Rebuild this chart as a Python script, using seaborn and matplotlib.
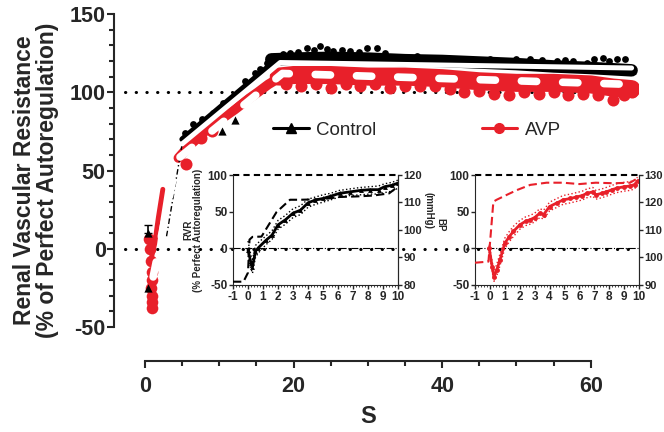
import matplotlib
matplotlib.use("Agg")
import matplotlib.pyplot as plt
import matplotlib.ticker as mticker
from matplotlib.lines import Line2D
import seaborn as sns

sns.set_style("ticks")
plt.rcParams["font.family"] = ["Liberation Sans", "DejaVu Sans"]
plt.rcParams["font.weight"] = "bold"
plt.rcParams["axes.unicode_minus"] = False

RED = "#E8202A"

# ---------------- main panel data ----------------
ctrl_tri_t = [0.4, 0.4, 10.4, 12.1, 65.5]
ctrl_tri_y = [10, -25, 75, 82, 114]

ctrl_dots_t = [5.4, 6.5, 7.7, 9.2, 10.5, 12.1, 13.5, 14.8, 15.5, 16.4, 17.5, 18.6,
               19.5, 20.6, 21.8, 22.7, 23.6, 24.5, 25.3, 26.5, 27.6, 28.8, 29.9,
               31.2, 32.3, 33.4, 35.0, 36.6, 38.5, 40.1, 41.3, 42.5, 43.8, 45.1,
               46.5, 48.2, 50.0, 51.8, 53.5, 55.4, 56.5, 57.6, 59.5, 60.5, 61.6,
               62.5, 63.5, 64.6]
ctrl_dots_y = [74, 80, 83, 87, 93, 97, 107, 112, 115, 119, 123, 124.5,
               125, 126, 128.4, 127, 129.7, 127.5, 126.5, 127, 126.5, 125.5, 128.4,
               128, 125.2, 122, 121.5, 123, 122, 122, 121, 121, 120.5, 120,
               121, 120, 121, 121.4, 120.5, 120, 120.5, 120, 119, 121, 122,
               120, 121.4, 121.4]

ctrl_diag_t = [5.0, 8.0, 11.0, 14.0, 17.0]
ctrl_diag_y = [70, 82, 94, 106, 118]
ctrl_band_t = [17.0, 20, 25, 30, 35, 40, 45, 50, 55, 60, 65.5]
ctrl_band_y = [121, 121.5, 122, 121.5, 120.5, 120, 119, 118, 116.5, 115.5, 114]

avp_col_t = [0.5, 0.7, 0.8, 0.9, 0.9, 0.8, 0.9, 0.9, 0.9]
avp_col_y = [6, 0, -8, -15, -20, -25, -30, -34, -38]
avp_steep_t = [0.9, 1.3, 1.8, 2.4]
avp_steep_y = [-5, 3, 20, 38]
avp_diag_t = [4.5, 6.0, 8.3, 10.0, 12.1, 14.0, 15.2, 16.6, 18.0]
avp_diag_y = [58, 66, 76, 82, 89, 96, 100, 105, 109]
avp_plat_t = [18.0, 20, 25, 30, 35, 40, 45, 50, 55, 60, 63, 65.5]
avp_plat_y = [110, 111, 111, 110, 110, 109, 107, 106, 106, 105, 103, 102]
avp_blob_t = [5.5, 7.5, 9.0, 19, 21, 23, 25, 27, 29, 31, 33, 35, 37, 39, 41, 43,
              45, 47, 49, 51, 53, 55, 57, 59, 61, 63, 64.5, 65.5]
avp_blob_y = [54, 71, 75, 105, 104, 105, 103, 105, 104, 105, 103, 104, 104, 104,
              102, 100, 101, 99, 98, 100, 99, 100, 98, 99, 98, 95, 98, 100]

ctrl_fit0_t = [2.9, 5.0]
ctrl_fit0_y = [8, 67]
ctrl_fit_t = [5.0, 18.2, 65.5]
ctrl_fit_y = [67, 119, 115.5]
avp_fit_t = [1.1, 4.3, 18.5, 65.5]
avp_fit_y = [-18, 57, 112, 105]

# ---------------- inset data ----------------
i1_t = [0.0, 0.2, 0.3, 0.5, 0.7, 1.2, 1.6, 2.0, 2.5, 3.0, 3.5, 4.0, 4.5, 5.0, 5.5,
        6.1, 6.8, 7.5, 8.1, 8.7, 9.1, 9.6, 10.0]
i1_rvr = [-2, -20, -25, -4, 1, 11, 18, 32, 39, 48, 52, 62, 66, 68, 71, 75, 77, 79,
          80, 80, 84, 86, 89]
i1_hi = [10, -10, -15, 4, 8, 17, 24, 38, 45, 54, 58, 67, 70, 73, 75, 79, 81, 83,
         84, 85, 88, 90, 93]
i1_lo = [-10, -28, -34, -12, -6, 5, 12, 26, 33, 42, 46, 56, 60, 63, 66, 70, 72, 73,
         74, 74, 76, 78, 82]
i1_bp_t = [-1.0, -0.3, 0.0, 0.1, 0.3, 0.9, 1.9, 2.8, 3.5, 5.0, 6.1, 7.2, 8.3, 9.4, 10.0]
i1_bp = [81.2, 81.2, 84.5, 96.5, 97.5, 97.6, 106.5, 111, 111, 111.2, 112, 112.2,
         112.5, 113.3, 115.8]

i2_t = [-0.05, 0.15, 0.27, 0.45, 0.67, 1.0, 1.3, 1.57, 2.0, 2.4, 2.7, 3.0, 3.35,
        3.6, 4.0, 4.5, 4.9, 5.4, 5.8, 6.2, 6.5, 6.9, 7.1, 7.5, 7.8, 8.2, 8.5, 9.0,
        9.4, 9.7, 9.9]
i2_rvr = [0, -25, -39, -30, -16, 7, 16, 23, 32, 37, 39, 42, 48, 46, 57, 62, 66, 68,
          70, 72, 75, 77, 73, 75, 77, 80, 82, 84, 85, 87, 92]
i2_hi = [5, -18, -32, -22, -8, 14, 23, 30, 38, 43, 45, 48, 54, 52, 63, 68, 72, 74,
         76, 78, 81, 83, 79, 81, 83, 86, 88, 90, 91, 93, 97]
i2_lo = [-5, -32, -45, -38, -24, 0, 9, 16, 26, 31, 33, 36, 42, 40, 51, 56, 60, 62,
         64, 66, 69, 71, 67, 69, 71, 74, 76, 78, 79, 81, 87]
i2_bp_t = [-1.0, -0.1, 0.0, 0.23, 0.45, 1.1, 1.8, 2.7, 3.8, 4.9, 6.0, 7.1, 8.3, 9.4, 9.9]
i2_bp = [98.1, 98.5, 105, 120.3, 121, 122.7, 124.5, 126.4, 127.2, 127.2, 126.7,
         127.2, 127, 127.2, 128.8]

# ---------------- main panel ----------------
fig = plt.figure(figsize=(6.64, 4.32), dpi=100)
ax = fig.add_axes([0.1717, 0.243, 0.7907, 0.7246])
ax.set_xlim(-4.17, 66.5)
ax.set_ylim(-50, 150)

dots = dict(color="black", lw=2.2, linestyle=(0, (0.1, 3.4)),
            dash_capstyle="round", zorder=1)
ax.plot([-2.7, 65.5], [100, 100], **dots)
ax.plot([-2.7, 65.5], [0, 0], **dots)

sns.lineplot(x=ctrl_band_t, y=ctrl_band_y, ax=ax, color="black", lw=9,
             estimator=None, sort=False, zorder=2)
sns.lineplot(x=ctrl_diag_t, y=ctrl_diag_y, ax=ax, color="black", lw=4,
             estimator=None, sort=False, zorder=2)

sns.lineplot(x=avp_plat_t, y=avp_plat_y, ax=ax, color=RED, lw=13,
             estimator=None, sort=False, zorder=3, solid_capstyle="round")
sns.lineplot(x=avp_diag_t, y=avp_diag_y, ax=ax, color=RED, lw=7,
             estimator=None, sort=False, zorder=3, solid_capstyle="round")
sns.lineplot(x=avp_steep_t, y=avp_steep_y, ax=ax, color=RED, lw=3.5,
             estimator=None, sort=False, zorder=3)
sns.scatterplot(x=avp_blob_t, y=avp_blob_y, ax=ax, color=RED, s=75,
                linewidth=0, zorder=3)
sns.scatterplot(x=avp_col_t, y=avp_col_y, ax=ax, color=RED, s=70,
                linewidth=0, zorder=3, clip_on=False)

sns.scatterplot(x=ctrl_dots_t, y=ctrl_dots_y, ax=ax, color="black", s=24,
                linewidth=0, zorder=4)
sns.scatterplot(x=ctrl_tri_t, y=ctrl_tri_y, ax=ax, color="black", marker="^",
                s=35, linewidth=0, zorder=4)
ax.errorbar(ctrl_tri_t[0], ctrl_tri_y[0], yerr=[[0], [5]], color="black",
            lw=1.2, capsize=3, zorder=4)

sns.lineplot(x=ctrl_fit0_t, y=ctrl_fit0_y, ax=ax, color="black", lw=1,
             linestyle=(0, (4, 2, 1, 2)), estimator=None, sort=False, zorder=5)
sns.lineplot(x=ctrl_fit_t, y=ctrl_fit_y, ax=ax, color="white", lw=3.6,
             estimator=None, sort=False, zorder=5)
sns.lineplot(x=avp_fit_t, y=avp_fit_y, ax=ax, color="white", lw=5.5,
             linestyle=(0, (2, 3.4)), dash_capstyle="round",
             estimator=None, sort=False, zorder=5)

sns.despine(ax=ax)
ax.spines["bottom"].set_position(("outward", 24.5))
ax.spines["bottom"].set_bounds(0, 60)
for sp in ("left", "bottom"):
    ax.spines[sp].set_linewidth(1.5)
ax.set_xticks([0, 20, 40, 60])
ax.set_yticks([-50, 0, 50, 100, 150])
ax.xaxis.set_minor_locator(mticker.FixedLocator([5, 10, 15, 25, 30, 35, 45, 50, 55]))
ax.yaxis.set_minor_locator(mticker.MultipleLocator(10))
ax.tick_params(which="major", length=5, width=1.5, labelsize=15.5)
ax.tick_params(which="minor", length=3.5, width=1.5)
ax.tick_params(axis="y", pad=1)
ax.tick_params(axis="x", pad=6)
ax.set_ylabel("Renal Vascular Resistance\n(% of Perfect Autoregulation)",
              fontsize=16.5, fontweight="bold", linespacing=1.0)
ax.yaxis.set_label_coords(-0.105, 0.47)
ax.set_xlabel("S", fontsize=17, fontweight="bold")
ax.xaxis.set_label_coords(0.484, -0.25)

handles = [Line2D([], [], color="black", lw=2.2, marker="^", ms=7),
           Line2D([], [], color=RED, lw=2.2, marker="o", ms=7)]
fig.legend(handles, ["Control", "AVP"], loc="center",
           bbox_to_anchor=(0.628, 0.699), ncol=2, frameon=False,
           prop={"weight": "normal", "size": 13.5}, handlelength=1.9,
           handletextpad=0.4, columnspacing=5.6)


# ---------------- insets ----------------
def inset(rect, color, t, rvr, hi, lo, bp_t, bp, bp_lim, marker):
    a = fig.add_axes(rect)
    a.patch.set_alpha(0)
    a.set_xlim(-1, 10)
    a.set_ylim(-50, 100)
    a.axhline(100, color="black", lw=1.5, linestyle=(0, (3, 2)), clip_on=False)
    a.axhline(0, color="black", lw=0.8, linestyle="-.")
    sns.lineplot(x=t, y=hi, ax=a, color=color, lw=1, linestyle=":",
                 estimator=None, sort=False)
    sns.lineplot(x=t, y=lo, ax=a, color=color, lw=1, linestyle=":",
                 estimator=None, sort=False)
    sns.lineplot(x=t, y=rvr, ax=a, color=color, lw=2, marker=marker, ms=3.5,
                 mew=0, estimator=None, sort=False)
    a.spines["top"].set_visible(False)
    a.set_xticks(range(-1, 11))
    a.set_yticks([-50, 0, 50, 100])
    a.xaxis.set_minor_locator(mticker.MultipleLocator(0.2))
    a.tick_params(which="major", length=3, width=1, labelsize=8.5, pad=1)
    a.tick_params(which="minor", length=1.5, width=0.6)
    a.set_xlabel("")
    a.set_ylabel("")
    b = a.twinx()
    b.patch.set_alpha(0)
    b.set_ylim(*bp_lim)
    b.set_yticks(range(bp_lim[0], bp_lim[1] + 1, 10))
    sns.lineplot(x=bp_t, y=bp, ax=b, color=color, lw=1.5, linestyle=(0, (4, 2)),
                 estimator=None, sort=False)
    for sp in ("top", "left", "bottom"):
        b.spines[sp].set_visible(False)
    b.tick_params(which="major", length=3, width=1, labelsize=8, pad=1)
    b.set_xlabel("")
    b.set_ylabel("")
    return a, b


in1, tw1 = inset([0.3509, 0.3403, 0.2485, 0.2546], "black", i1_t, i1_rvr, i1_hi,
                 i1_lo, i1_bp_t, i1_bp, (80, 120), "^")
in1.set_ylabel("RVR\n(% Perfect Autoregulation)", fontsize=7,
               fontweight="bold", linespacing=1.0)
in1.yaxis.set_label_coords(-0.18, 0.5)
fig.text(428 / 664, 1 - 211 / 432, "(mmHg)", rotation=270, fontsize=7,
         fontweight="bold", ha="center", va="center")
fig.text(440 / 664, 1 - 225 / 432, "BP", rotation=270, fontsize=7,
         fontweight="bold", ha="center", va="center")

in2, tw2 = inset([0.7154, 0.3403, 0.2470, 0.2546], RED, i2_t, i2_rvr, i2_hi,
                 i2_lo, i2_bp_t, i2_bp, (90, 130), "o")

fig.savefig("out.png", dpi=100)
